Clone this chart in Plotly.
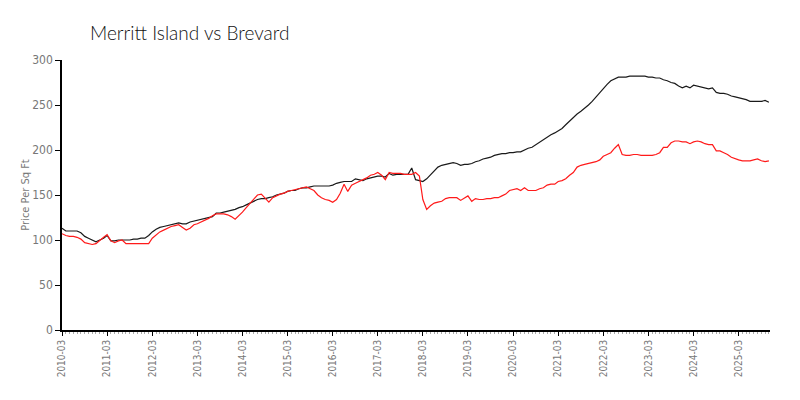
import pandas as pd
import plotly.graph_objects as go

start_month = "2010-03-01"

brevard = [
    113,110,110,110,110,108,104,102,100,98,100,102,
    105,99,99,100,100,100,100,101,101,102,102,105,
    109,112,114,115,116,117,118,119,118,118,120,121,
    122,123,124,125,126,130,130,131,132,133,134,136,
    137,139,141,143,145,146,146,147,148,150,151,152,
    154,155,155,157,158,158,159,160,160,160,160,160,
    161,163,164,165,165,165,168,167,166,168,169,170,
    171,171,170,174,172,173,173,173,173,180,167,166,
    165,168,172,177,181,183,184,185,186,185,183,184,
    184,185,187,188,190,191,192,194,195,196,196,197,
    197,198,198,200,202,203,206,209,211,214,217,219,
    221,224,228,232,237,240,243,246,250,254,259,264,
    269,273,277,279,281,281,281,282,282,282,282,282,
    281,281,280,280,278,277,275,274,271,269,271,269,
    272,271,270,269,268,269,264,263,263,262,260,259,
    258,257,256,254,254,254,254,255,253,
]

merritt_island = [
    107,105,104,104,103,101,97,96,95,96,100,103,
    106,99,97,99,100,96,96,96,96,96,96,96,
    102,106,109,111,113,115,116,117,114,111,113,117,
    118,120,122,124,127,129,129,129,128,126,123,127,
    131,136,141,145,150,151,146,142,147,149,151,152,
    154,155,156,157,158,159,157,155,150,147,145,144,
    142,145,152,162,154,161,163,165,167,169,172,173,
    175,172,167,175,174,174,174,173,173,173,175,171,
    145,134,138,141,142,143,146,147,147,147,144,147,
    149,143,146,145,145,146,146,147,147,149,151,155,
    156,157,155,158,155,155,155,157,158,161,162,162,
    165,166,168,172,175,181,183,184,185,186,187,189,
    193,195,197,202,206,195,194,194,195,195,194,194,
    194,194,195,197,203,203,208,210,210,209,209,207,
    209,210,209,207,206,206,199,199,197,195,192,190,
    189,188,188,188,189,190,188,187,188,
]

months = pd.date_range(start_month, periods=len(brevard), freq="MS")

title_text = "Merritt Island vs Brevard"
y_title = "Price Per Sq Ft"
y_ticks = [0, 50, 100, 150, 200, 250, 300]

narrow = "DejaVu Sans Condensed, Liberation Sans Narrow, Roboto, sans-serif"

fig = go.Figure()
fig.add_trace(go.Scatter(x=months, y=brevard, mode="lines", name="Brevard",
                         line=dict(color="#1a1a1a", width=1.2)))
fig.add_trace(go.Scatter(x=months, y=merritt_island, mode="lines", name="Merritt Island",
                         line=dict(color="#ff1a1a", width=1.2)))

fig.update_layout(
    width=800, height=400,
    margin=dict(l=54, r=38, t=52, b=78, autoexpand=False),
    paper_bgcolor="white", plot_bgcolor="white",
    showlegend=False,
    title=dict(text=title_text, x=82/800, xref="container", xanchor="left",
               y=1-25/400, yref="container", yanchor="middle",
               font=dict(family="Lato, sans-serif", size=19, color="#111111", weight=300)),
)
fig.update_xaxes(
    type="date",
    range=[months[0], pd.Timestamp("2025-11-10")],
    tick0=start_month, dtick="M12", tickformat="%Y-%m", tickangle=-90,
    ticks="outside", ticklen=4, tickcolor="#000000",
    tickfont=dict(family=narrow, size=10, color="#777777"),
    showline=True, linecolor="#000000", linewidth=1.5,
    showgrid=False, zeroline=False, automargin=False,
    minor=dict(dtick="M1", tick0=start_month, ticks="outside", ticklen=2, tickcolor="#aaaaaa"),
)
fig.update_yaxes(
    range=[0, 300], tickvals=y_ticks,
    ticks="outside", ticklen=5, tickcolor="#000000",
    tickfont=dict(family=narrow, size=12, color="#777777"),
    showline=True, linecolor="#000000", linewidth=1.5,
    showgrid=False, zeroline=False, automargin=False,
    title=dict(text=y_title, standoff=0,
               font=dict(family=narrow, size=11, color="#777777")),
)

fig.write_html("out.html")
